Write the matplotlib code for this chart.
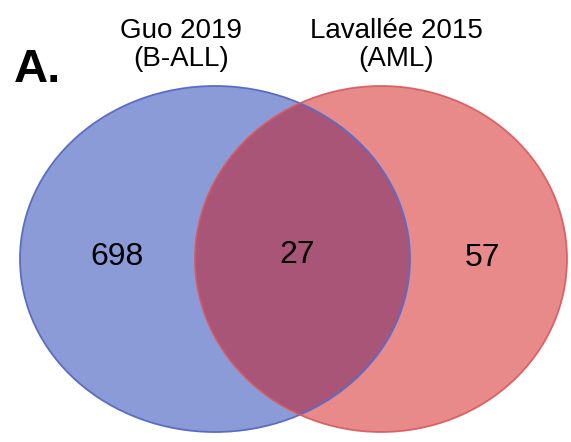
import matplotlib.pyplot as plt
from matplotlib.patches import Ellipse

plt.rcParams['font.family'] = ['Liberation Sans', 'DejaVu Sans']

set_labels = ['Guo 2019\n(B-ALL)', 'Lavallée 2015\n(AML)']
counts = [698, 27, 57]  # only left, both, only right

fig = plt.figure(figsize=(5.71, 4.42), dpi=100)
ax = fig.add_axes([0, 0, 1, 1])
ax.set_xlim(0, 571)
ax.set_ylim(442, 0)
ax.axis('off')

# circles in pixel space
left = dict(xy=(215, 259), width=390, height=346)
right = dict(xy=(381, 259), width=372, height=346)

ax.add_patch(Ellipse(**left, facecolor='#8a9bd8', edgecolor='none'))
ax.add_patch(Ellipse(**right, facecolor='#e88a8a', edgecolor='none'))

# overlap region
clip = Ellipse(**right, facecolor='none', edgecolor='none')
ax.add_patch(clip)
mid = Ellipse(**left, facecolor='#a85577', edgecolor='none')
ax.add_patch(mid)
mid.set_clip_path(clip)

ax.add_patch(Ellipse(**left, facecolor='none', edgecolor='#5b6cc6', linewidth=1.3))
ax.add_patch(Ellipse(**right, facecolor='none', edgecolor='#d9585c', linewidth=1.3, alpha=0.9))

ax.text(181, 45, set_labels[0], ha='center', va='center', fontsize=20, linespacing=1.07)
ax.text(396, 45, set_labels[1], ha='center', va='center', fontsize=20, linespacing=1.07)
ax.text(14, 70, 'A.', ha='left', va='center', fontsize=34, fontweight='bold')

ax.text(117, 257, str(counts[0]), ha='center', va='center', fontsize=23)
ax.text(297, 255, str(counts[1]), ha='center', va='center', fontsize=23)
ax.text(483, 258, str(counts[2]), ha='center', va='center', fontsize=23)

fig.savefig('out.png', dpi=100)
